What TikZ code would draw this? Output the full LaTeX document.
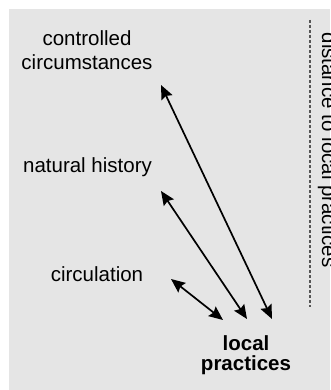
\documentclass[tikz,border=0pt]{standalone}
\usepackage{fontspec}
\setmainfont{Liberation Sans}
\usetikzlibrary{arrows.meta}
\definecolor{bggray}{HTML}{E5E5E5}
\definecolor{dashgray}{HTML}{555555}
\tikzset{
  lbl/.style={inner sep=0pt, font=\fontsize{20.5}{24}\selectfont, align=center},
  link/.style={line width=1.7pt, {Stealth[length=14pt,width=12pt,inset=2pt]}-{Stealth[length=14pt,width=12pt,inset=2pt]}},
  divider/.style={dashgray, line width=1.3pt, dash pattern=on 3pt off 2pt}
}
\begin{document}
\begin{tikzpicture}[x=1pt,y=-1pt]
\useasboundingbox (0,0) rectangle (330,390);
\fill[bggray] (9,9) rectangle (330,390);
\node[lbl, anchor=south] (cc) at (87,70) {controlled\\circumstances};
\node[lbl, anchor=base] (nh) at (87.5,172.3) {natural history};
\node[lbl, anchor=base] (circ) at (97,281.7) {circulation};
\node[lbl, anchor=north, font=\fontsize{20.5}{20}\selectfont\bfseries] (lp) at (246,335.8) {local\\practices};
\node[lbl, anchor=base, rotate=-90] (dist) at (322,150) {distance to local practices};
\coordinate (dtop) at (310,20);
\coordinate (dbot) at (310,307);
\draw[divider] (dtop) -- (dbot);
\coordinate (a1) at (161,85);
\coordinate (b1) at (272,319);
\coordinate (a2) at (161,191);
\coordinate (b2) at (247,319);
\coordinate (a3) at (171,279);
\coordinate (b3) at (223,320);
\draw[link] (a1) -- (b1);
\draw[link] (a2) -- (b2);
\draw[link] (a3) -- (b3);
\end{tikzpicture}
\end{document}
